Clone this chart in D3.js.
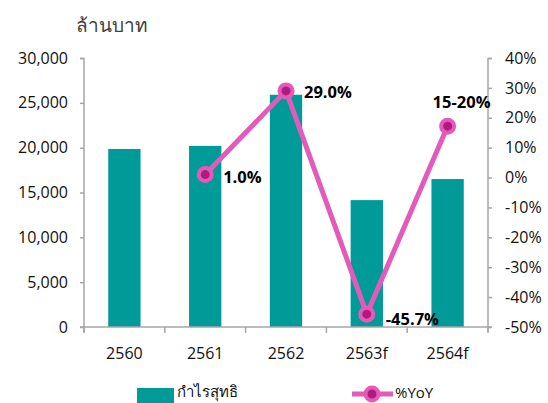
<!DOCTYPE html>
<html>
<head>
<meta charset="utf-8">
<script src="https://cdn.jsdelivr.net/npm/d3@7"></script>
<style>
  body { margin: 0; background: #fff; }
  text { font-family: 'Open Sans', 'Noto Sans', sans-serif; }
</style>
</head>
<body>
<script>
var width = 548,
    height = 403;

// data
var years = ['2560', '2561', '2562', '2563f', '2564f'];
var profit = [19850, 20200, 25900, 14150, 16500];
var yoy = [null, 1.0, 29.0, -45.7, 17.2];
var yoyLabels = ['', '1.0%', '29.0%', '-45.7%', '15-20%'];
var leftTicks = [0, 5000, 10000, 15000, 20000, 25000, 30000];
var rightTicks = [-50, -40, -30, -20, -10, 0, 10, 20, 30, 40];

var teal = '#009a98',
    pink = '#e35bba',
    dark = '#b5187e',
    axisGray = '#a6a6a6';

var svg = d3.select('body')
  .append('svg')
  .attr('width', width)
  .attr('height', height);

var x = d3.scaleBand()
  .domain(years)
  .range([84, 488])
  .paddingInner(0.6)
  .paddingOuter(0.3);

var yLeft = d3.scaleLinear()
  .domain([0, 30000])
  .range([327, 58]);

var yRight = d3.scaleLinear()
  .domain([-50, 40])
  .range([327, 58]);

// title
svg.append('text')
  .attr('x', 76)
  .attr('y', 32)
  .style('font-size', '19px')
  .style('fill', '#404040')
  .text('ล้านบาท');

// bars
svg.selectAll('rect.bar')
  .data(profit)
  .enter().append('rect')
  .attr('class', 'bar')
  .attr('x', function (d, i) { return x(years[i]); })
  .attr('width', x.bandwidth())
  .attr('y', function (d) { return yLeft(d); })
  .attr('height', function (d) { return yLeft(0) - yLeft(d); })
  .attr('fill', teal);

// left axis
var leftAxis = svg.append('g')
  .attr('transform', 'translate(84,0)')
  .call(d3.axisLeft(yLeft)
    .tickValues(leftTicks)
    .tickSize(4)
    .tickPadding(12)
    .tickFormat(d3.format(',')));

// right axis
var rightAxis = svg.append('g')
  .attr('transform', 'translate(488,0)')
  .call(d3.axisRight(yRight)
    .tickValues(rightTicks)
    .tickSize(4)
    .tickPadding(13)
    .tickFormat(function (d) { return d + '%'; }));

// bottom axis
var bottomAxis = svg.append('g')
  .attr('transform', 'translate(0,327)')
  .call(d3.axisBottom(x).tickSize(0).tickPadding(21));

[leftAxis, rightAxis, bottomAxis].forEach(function (g) {
  g.select('.domain').attr('stroke', axisGray).attr('stroke-width', 1.5);
  g.selectAll('.tick line').attr('stroke', axisGray).attr('stroke-width', 1.5);
  g.selectAll('.tick text')
    .style('font-size', '16px')
    .style('fill', '#111');
});
leftAxis.select('.domain').attr('d', 'M-4,58.5H0V332');
rightAxis.select('.domain').attr('d', 'M4,58.5H0V332');
bottomAxis.select('.domain').attr('d', 'M80,0H492');

// category boundary ticks
var step = x.step();
bottomAxis.selectAll('line.sep')
  .data(d3.range(years.length + 1))
  .enter().append('line')
  .attr('class', 'sep')
  .attr('x1', function (i) { return 84 + i * step; })
  .attr('x2', function (i) { return 84 + i * step; })
  .attr('y1', 0)
  .attr('y2', 6)
  .attr('stroke', axisGray)
  .attr('stroke-width', 1.5);

// yoy line
var pts = yoy.map(function (d, i) { return { v: d, i: i }; })
  .filter(function (d) { return d.v !== null; });

var cx = function (d) { return x(years[d.i]) + x.bandwidth() / 2; };

svg.append('path')
  .datum(pts)
  .attr('fill', 'none')
  .attr('stroke', pink)
  .attr('stroke-width', 5)
  .attr('stroke-linejoin', 'round')
  .attr('d', d3.line()
    .x(cx)
    .y(function (d) { return yRight(d.v); }));

svg.selectAll('circle.pt')
  .data(pts)
  .enter().append('circle')
  .attr('class', 'pt')
  .attr('cx', cx)
  .attr('cy', function (d) { return yRight(d.v); })
  .attr('r', 6.5)
  .attr('fill', dark)
  .attr('stroke', pink)
  .attr('stroke-width', 4);

// data labels
var labelPos = [null, [18, 8], [18, 7], [19, 11], [-15, -18]];
svg.selectAll('text.lbl')
  .data(pts)
  .enter().append('text')
  .attr('class', 'lbl')
  .attr('x', function (d) { return cx(d) + labelPos[d.i][0]; })
  .attr('y', function (d) { return yRight(d.v) + labelPos[d.i][1]; })
  .style('font-size', '16.5px')
  .style('font-weight', 'bold')
  .style('fill', '#000')
  .text(function (d) { return yoyLabels[d.i]; });

// legend
var legend = svg.append('g');
legend.append('rect')
  .attr('x', 137)
  .attr('y', 388)
  .attr('width', 37)
  .attr('height', 18)
  .attr('fill', teal);
legend.append('text')
  .attr('x', 177)
  .attr('y', 397)
  .style('font-size', '15px')
  .style('fill', '#111')
  .text('กำไรสุทธิ');
legend.append('line')
  .attr('x1', 352)
  .attr('x2', 393)
  .attr('y1', 394)
  .attr('y2', 394)
  .attr('stroke', pink)
  .attr('stroke-width', 5);
legend.append('circle')
  .attr('cx', 372)
  .attr('cy', 394)
  .attr('r', 6.5)
  .attr('fill', dark)
  .attr('stroke', pink)
  .attr('stroke-width', 4);
legend.append('text')
  .attr('x', 395)
  .attr('y', 398)
  .style('font-size', '15px')
  .style('fill', '#111')
  .text('%YoY');
</script>
</body>
</html>
